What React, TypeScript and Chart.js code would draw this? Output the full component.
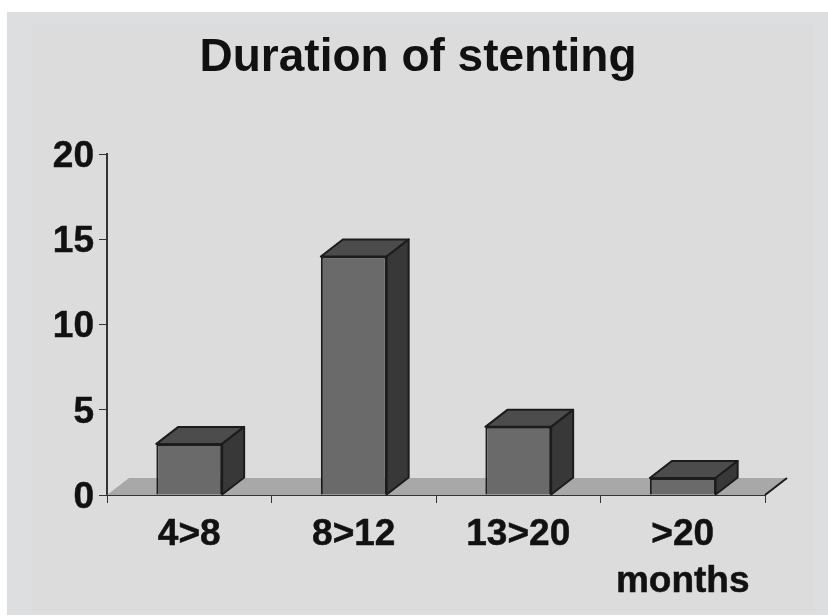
import React, { useEffect, useRef } from "react";
import { Chart, registerables } from "chart.js";

Chart.register(...registerables);

const categories: (string | string[])[] = ["4>8", "8>12", "13>20", [">20", "months"]];
const patients = [3, 14, 4, 1];
const yTicks = [0, 5, 10, 15, 20];
const titleText = "Duration of stenting";

const DX = 22;
const DY = 17;
const INK = "#1c1c1c";
const FONT = "'Liberation Sans', Arial, sans-serif";

const poly = (ctx: CanvasRenderingContext2D, pts: number[][], fill: string | null, stroke: string | null, lw = 2) => {
  ctx.beginPath();
  pts.forEach(([x, y], i) => (i ? ctx.lineTo(x, y) : ctx.moveTo(x, y)));
  ctx.closePath();
  if (fill) {
    ctx.fillStyle = fill;
    ctx.fill();
  }
  if (stroke) {
    ctx.strokeStyle = stroke;
    ctx.lineWidth = lw;
    ctx.lineJoin = "round";
    ctx.stroke();
  }
};

const backdrop = {
  id: "backdrop",
  beforeDraw(chart: any) {
    const { ctx, width, height } = chart;
    ctx.save();
    ctx.fillStyle = "#ffffff";
    ctx.fillRect(0, 0, width, height);
    ctx.fillStyle = "#dcdee0";
    ctx.fillRect(7, 12, width - 7, 603);
    ctx.fillStyle = "#dcdcdc";
    ctx.fillRect(32, 23, 783, 588);
    ctx.restore();
  },
};

const floor3d = {
  id: "floor3d",
  beforeDatasetsDraw(chart: any) {
    const { ctx, chartArea } = chart;
    const { left, right, bottom } = chartArea;
    ctx.save();
    poly(ctx, [[left, bottom], [left + DX, bottom - DY], [right + DX, bottom - DY], [right, bottom]], "#a8a8a8", null);
    ctx.beginPath();
    ctx.moveTo(right, bottom);
    ctx.lineTo(right + DX, bottom - DY);
    ctx.strokeStyle = INK;
    ctx.lineWidth = 2;
    ctx.stroke();
    ctx.restore();
  },
};

const bars3d = {
  id: "bars3d",
  afterDatasetsDraw(chart: any) {
    const { ctx } = chart;
    ctx.save();
    chart.getDatasetMeta(0).data.forEach((bar: any) => {
      const { x, y, base, width } = bar.getProps(["x", "y", "base", "width"], true);
      const l = x - width / 2;
      const r = x + width / 2;
      poly(ctx, [[l, y], [l + DX, y - DY], [r + DX, y - DY], [r, y]], "#4c4c4c", INK);
      poly(ctx, [[r, y], [r + DX, y - DY], [r + DX, base - DY], [r, base]], "#383838", INK);
    });
    ctx.restore();
  },
};

export default function App() {
  const ref = useRef<HTMLCanvasElement>(null);
  useEffect(() => {
    document.body.style.margin = "0";
    const chart = new Chart(ref.current!, {
      type: "bar",
      data: {
        labels: categories as any,
        datasets: [
          {
            data: patients,
            backgroundColor: "#6a6a6a",
            borderColor: INK,
            borderWidth: 2,
            barPercentage: 0.4,
            categoryPercentage: 1,
          },
        ],
      },
      plugins: [backdrop, floor3d, bars3d],
      options: {
        animation: false,
        responsive: false,
        layout: { padding: { left: 8, right: 0, top: 0, bottom: 0 } },
        plugins: {
          legend: { display: false },
          tooltip: { enabled: false },
          title: {
            display: true,
            text: titleText,
            color: "#111111",
            font: { family: FONT, size: 46, weight: "bold", lineHeight: 1.2 },
            padding: { top: 31, bottom: 68 },
          },
        },
        scales: {
          x: {
            grid: { drawOnChartArea: false, drawTicks: true, tickLength: 8, color: "#333333", offset: true },
            border: { color: "#333333", width: 2 },
            ticks: {
              color: "#111111",
              maxRotation: 0,
              autoSkip: false,
              padding: 9,
              textStrokeColor: "#111111",
              textStrokeWidth: 0.5,
              font: { family: FONT, size: 37, weight: "bold", lineHeight: 1.25 },
            },
            afterFit(s: any) {
              s.height = 121;
            },
          },
          y: {
            min: 0,
            max: 20,
            afterBuildTicks(s: any) {
              s.ticks = yTicks.map((value) => ({ value }));
            },
            grid: { drawOnChartArea: false, drawTicks: true, tickLength: 8, color: "#333333" },
            border: { color: "#333333", width: 2 },
            ticks: {
              color: "#111111",
              padding: 5,
              textStrokeColor: "#111111",
              textStrokeWidth: 0.5,
              callback: (v: any) => ["", String(v)],
              font: { family: FONT, size: 37, weight: "bold", lineHeight: 0.14 },
            },
            afterFit(s: any) {
              s.width = 99;
            },
          },
          spacer: {
            position: "right",
            display: true,
            min: 0,
            max: 20,
            grid: { display: false, drawTicks: false },
            border: { display: false },
            ticks: { display: false },
            afterFit(s: any) {
              s.width = 63;
            },
          },
        },
      },
    } as any);
    return () => chart.destroy();
  }, []);
  return <canvas ref={ref} width={828} height={616} style={{ display: "block" }} />;
}
